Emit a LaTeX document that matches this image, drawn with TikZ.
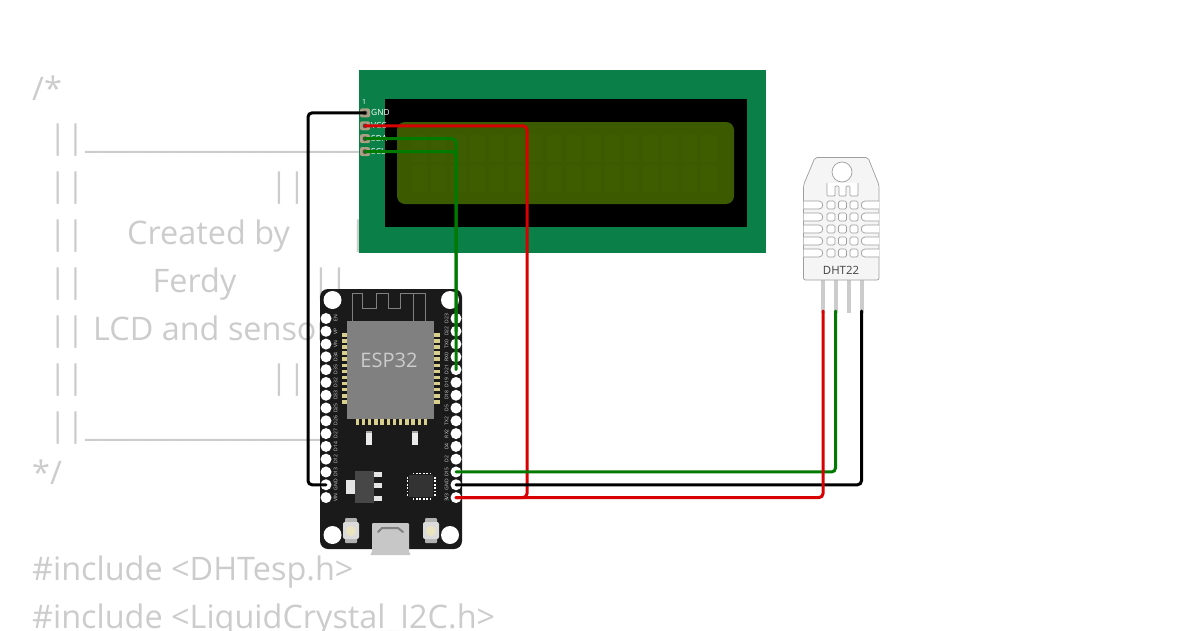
\documentclass[tikz,border=0pt]{standalone}
\usepackage{fontspec}
\setmainfont{Open Sans}
\definecolor{codegray}{HTML}{CCCCCC}
\definecolor{lcdgreen}{HTML}{0A7F47}
\definecolor{lcdscreen}{HTML}{3C5A00}
\definecolor{lcdcell}{HTML}{3E5C00}
\definecolor{lcdpad}{HTML}{A9A084}
\definecolor{boardblack}{HTML}{1A1A1A}
\definecolor{modulegray}{HTML}{808080}
\definecolor{padgold}{HTML}{D8CE8E}
\definecolor{wirered}{HTML}{D80000}
\definecolor{wiregreen}{HTML}{007A00}
\tikzset{
	codeline/.style={anchor=base west, inner sep=0pt, text=codegray, font=\fontsize{32.4}{32}\selectfont},
	esp pin/.style={circle, fill=white, inner sep=0pt, minimum size=11pt},
	esp label/.style={rotate=90, inner sep=0pt, text=white!85!black, font=\fontsize{5}{5}\selectfont},
	lcd pin/.style={rectangle, rounded corners=2pt, fill=lcdpad, inner sep=0pt, minimum width=10pt, minimum height=9pt},
	lcd label/.style={anchor=west, inner sep=0pt, text=white, font=\fontsize{8.4}{8}\selectfont},
	wire/.style={line width=3pt, rounded corners=4pt, line cap=round},
	dht line/.style={draw=black!38, line width=0.7pt, fill=white}
}
\begin{document}
\begin{tikzpicture}[x=1pt, y=-1pt]
	\useasboundingbox (0,0) rectangle (1200,630);
	\fill [white] (0,0) rectangle (1200,630);
	
	\node [codeline] (code-open) at (32,100) {/*};
	\foreach \y in {148,196,244,292,340,388,436}
	\node [codeline] (bars-\y) at (48.6,\y) {||};
	\foreach \y in {148,436}
	\node [codeline] (rule-\y) at (85,\y) {\_\_\_\_\_\_\_\_\_\_\_\_\_\_\_\_\_\_\_\_\_};
	\foreach \x/\y in {270/196,349/244,312/292,270/388}
	\node [codeline] (barsr-\y) at (\x,\y) {||};
	\node [codeline] (code-created) at (127,244) {Created by};
	\node [codeline] (code-ferdy) at (152.5,292) {Ferdy};
	\node [codeline] (code-title) at (93,340) {LCD and sensor};
	\node [codeline] (code-close) at (32,484) {*/};
	\node [codeline] (code-dht) at (32,580) {\#include <DHTesp.h>};
	\node [codeline] (code-lcd) at (32,628) {\#include <LiquidCrystal\_I2C.h>};
	
	\fill [lcdgreen] (359,70) rectangle (766,253);
	\fill [black] (384.5,99) rectangle (747,227);
	\fill [lcdscreen, rounded corners=8pt] (397,122) rectangle (734,204);
	\foreach \c in {0,...,15}
	\foreach \r in {0,1}
	\fill [lcdcell] (411.5+\c*19.3,135+\r*30) rectangle (427+\c*19.3,162+\r*30);
	
	\foreach \m/\l [count=\y] in {gnd/GND,vcc/VCC,sda/SDA,scl/SCL}
	{
		\node [lcd pin] (lcd-\m) at (365,100+\y*12.9) {};
		\fill [black!70] (lcd-\m.center) circle (2.4);
		\node [lcd label] (lcdtext-\m) at (371,100+\y*12.9) {\l};
	}
	\node [inner sep=0pt, text=white, font=\fontsize{7}{7}\selectfont] (lcd-first) at (364,102) {1};
	
	\fill [boardblack, rounded corners=8pt] (320,289) rectangle (462,549);
	\foreach \x/\y [count=\i] in {332.5/300,450/300,332.5/535,450/535}
	\node [circle, fill=white, inner sep=0pt, minimum size=18pt] (hole-\i) at (\x,\y) {};
	
	\draw [modulegray, line width=0.6pt] (352,321) -- (352,293) -- (362,293) -- (362,308) -- (376,308) -- (376,293) -- (388,293) -- (388,308) -- (400,308) -- (400,293) -- (425,293) -- (425,321);
	\draw [modulegray, line width=0.6pt] (413,293) -- (413,321);
	\foreach \i in {0,...,11}
	{
		\fill [padgold] (341.5,333+\i*6.1) rectangle (347,336.5+\i*6.1);
		\fill [padgold] (434,333+\i*6.1) rectangle (439.5,336.5+\i*6.1);
		\fill [padgold] (355.5+\i*6.2,419) rectangle (359+\i*6.2,425);
	}
	\fill [modulegray] (347,321) rectangle (434,419);
	\node [inner sep=0pt, text=codegray, font=\fontsize{20}{20}\selectfont] (esp-title) at (389,360) {ESP32};
	
	\foreach \l [count=\i] in {EN,VP,VN,D34,D35,D32,D33,D25,D26,D27,D14,D12,D13,GND,VIN}
	{
		\node [esp pin] (espl-\i) at (326,305.7+\i*12.79) {};
		\node [esp label] (espltext-\i) at (335.5,305.7+\i*12.79) {\l};
	}
	\foreach \l [count=\i] in {D23,D22,TX0,RX0,D21,D19,D18,D5,TX2,RX2,D4,D2,D15,GND,3V3}
	{
		\node [esp pin] (espr-\i) at (456,305.7+\i*12.79) {};
		\node [esp label] (esprtext-\i) at (446.5,305.7+\i*12.79) {\l};
	}
	
	\foreach \x in {369,415}
	{
		\fill [white!92!black] (\x-3,431) rectangle (\x+3,445);
		\fill [black!35] (\x-3,431) rectangle (\x+3,433);
	}
	\fill [black!72] (355,471) rectangle (374,503);
	\fill [white!90!black] (346,480) rectangle (355,494);
	\foreach \y in {472,483,496}
	\fill [white!90!black] (374,\y) rectangle (382,\y+5);
	\fill [black!80] (409,475) rectangle (433,497);
	\foreach \i in {0,...,5}
	{
		\fill [white] (412.5+\i*3.4,472.5) rectangle (414.3+\i*3.4,474);
		\fill [white] (412.5+\i*3.4,498) rectangle (414.3+\i*3.4,499.5);
		\fill [white] (406.5,477+\i*3.4) rectangle (408,478.8+\i*3.4);
		\fill [white] (434,477+\i*3.4) rectangle (435.5,478.8+\i*3.4);
	}
	\foreach \x in {351,431}
	{
		\fill [black!30, rounded corners=1pt] (\x-6,518) rectangle (\x+6,543);
		\fill [black!14, rounded corners=2pt] (\x-8,522) rectangle (\x+8,539);
		\fill [padgold!55!white] (\x,531) circle (5);
	}
	\fill [black!22, rounded corners=1pt] (372,523) -- (409,523) -- (409,552) -- (411,555) -- (370,555) -- (372,552) -- cycle;
	\draw [black!50, line width=2pt, line cap=round] (378,532) -- (382,528) -- (398,528) -- (403,532);
	
	\fill [black!20] (820.9,280) rectangle (825.1,313);
	\fill [black!20] (833.9,280) rectangle (838.1,313);
	\fill [black!20] (847,280) rectangle (851.2,313);
	\fill [black!20] (859.5,280) rectangle (863.7,313);
	\draw [dht line, fill=black!4, rounded corners=2pt] (815,157.5) -- (868,157.5) -- (879,185) -- (879,280) -- (803.5,280) -- (803.5,185) -- cycle;
	\draw [dht line] (842,172) circle (10);
	\draw [dht line, rounded corners=1pt] (827,183) -- (827,196) -- (835,196) -- (835,186) -- (839,186) -- (839,196) -- (846,196) -- (846,186) -- (850,186) -- (850,196) -- (858,196) -- (858,183);
	\foreach \y in {205,217,229,241,253}
	{
		\draw [dht line] (803.5,\y-4) -- (819,\y-4) .. controls (824,\y-4) and (824,\y+4) .. (819,\y+4) -- (803.5,\y+4);
		\draw [dht line] (879,\y-4) -- (865,\y-4) .. controls (860,\y-4) and (860,\y+4) .. (865,\y+4) -- (879,\y+4);
		\foreach \x in {831,842.5,854}
		\draw [dht line, rounded corners=1.5pt] (\x-4,\y-4) rectangle (\x+4,\y+4);
	}
	\node [inner sep=0pt, text=black!75, font=\fontsize{11.4}{11}\selectfont] (dht-title) at (841,270) {DHT22};
	\coordinate (dht-vcc) at (823,311);
	\coordinate (dht-sda) at (835.5,311);
	\coordinate (dht-gnd) at (861.5,311);
	
	\draw [wire, black] (lcd-gnd.center) -- ++(-57,0) |- (espl-14.center);
	\draw [wire, wirered] (lcd-vcc.center) -- ++(162,0) |- (espr-15.center);
	\draw [wire, wiregreen] (lcd-sda.center) -| (espr-5.center);
	\draw [wire, wiregreen] (lcd-scl.center) -| (espr-2.center);
	\draw [wire, wiregreen] (espr-13.center) -| (dht-sda);
	\draw [wire, black] (espr-14.center) -| (dht-gnd);
	\draw [wire, wirered] (espr-15.center) -| (dht-vcc);
\end{tikzpicture}
\end{document}
